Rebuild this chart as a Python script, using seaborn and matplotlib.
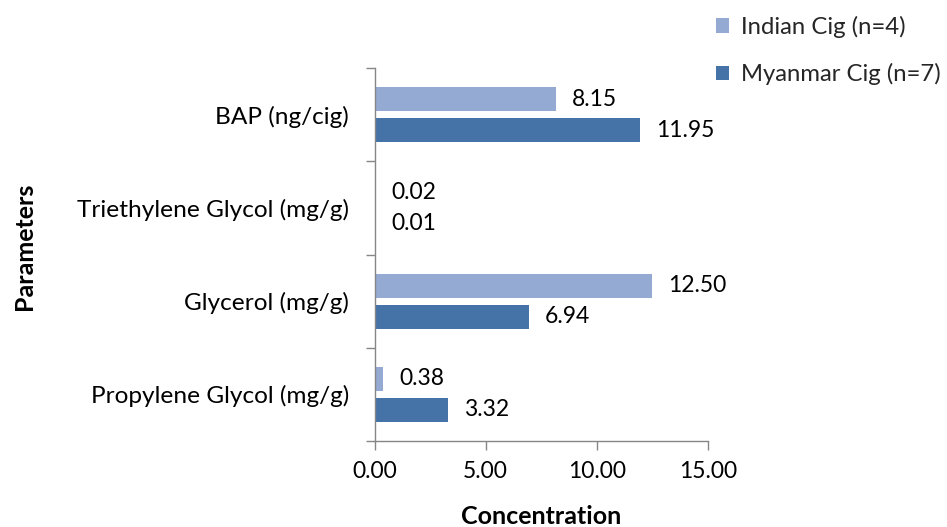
import matplotlib
matplotlib.use("Agg")
import matplotlib.pyplot as plt
import seaborn as sns
import pandas as pd
from matplotlib.patches import Patch

categories = ["BAP (ng/cig)", "Triethylene Glycol (mg/g)", "Glycerol (mg/g)", "Propylene Glycol (mg/g)"]
series = ["Indian Cig (n=4)", "Myanmar Cig (n=7)"]
indian = [8.15, 0.02, 12.50, 0.38]
myanmar = [11.95, 0.01, 6.94, 3.32]
x_ticks = [0, 5, 10, 15]
colors = ["#95AAD2", "#4572A7"]

df = pd.DataFrame({
    "Parameter": categories * 2,
    "Series": [series[0]] * len(indian) + [series[1]] * len(myanmar),
    "Value": indian + myanmar,
})

sns.set_theme(style="white")
plt.rcParams["font.family"] = ["Lato", "DejaVu Sans"]
FS_NUM = 16.5
FS_TXT = 17.6
axis_col = "#868686"

fig = plt.figure(figsize=(9.47, 5.27), dpi=100)
L, R, B, T = 374.7 / 947, 707.7 / 947, 1 - 441 / 527, 1 - 68 / 527
ax = fig.add_axes([L, B, R - L, T - B])

sns.barplot(data=df, y="Parameter", x="Value", hue="Series", order=categories,
            hue_order=series, palette=colors, orient="h", width=0.667, gap=0.226,
            saturation=1, linewidth=0, ax=ax, legend=False)

for c in ax.containers:
    ax.bar_label(c, fmt="%.2f", padding=11.5, fontsize=FS_NUM, color="black")

ax.set_xlim(0, 15)
ax.set_ylim(3.5, -0.5)
ax.set_xticks(x_ticks)
ax.set_xticklabels([f"{v:.2f}" for v in x_ticks], fontsize=FS_NUM)
ax.set_yticks(range(len(categories)))
ax.set_yticklabels(categories, fontsize=FS_TXT)
ax.set_yticks([i - 0.5 for i in range(len(categories) + 1)], minor=True)

ax.tick_params(axis="x", which="major", direction="out", length=6.5, width=1,
               color=axis_col, pad=8, labelcolor="black", bottom=True)
ax.tick_params(axis="y", which="major", length=0, pad=18.5, labelcolor="black", left=True)
ax.tick_params(axis="y", which="minor", direction="out", length=6.5, width=1,
               color=axis_col, left=True)

for s in ["top", "right"]:
    ax.spines[s].set_visible(False)
for s in ["left", "bottom"]:
    ax.spines[s].set_color(axis_col)
    ax.spines[s].set_linewidth(1)
ax.grid(False)

ax.set_xlabel("Concentration", fontsize=18, fontweight="bold", color="black")
ax.xaxis.set_label_coords(0.5, (10 - 86) / 373)
ax.xaxis.label.set_va("center")
ax.set_ylabel("Parameters", fontsize=18, fontweight="bold", color="black")
ax.yaxis.set_label_coords((25 - 374.7) / 333, (527 - 246 - 86) / 373)
ax.yaxis.label.set_va("center")

handles = [Patch(facecolor=c, edgecolor="none") for c in colors]
fig.legend(handles, series, loc="upper left", bbox_to_anchor=(716 / 947, 1 - 16 / 527),
           frameon=False, fontsize=17.2, handlelength=0.55, handleheight=0.55,
           handletextpad=0.5, labelspacing=1.05, borderaxespad=0, borderpad=0)

fig.savefig("out.png", dpi=100)
